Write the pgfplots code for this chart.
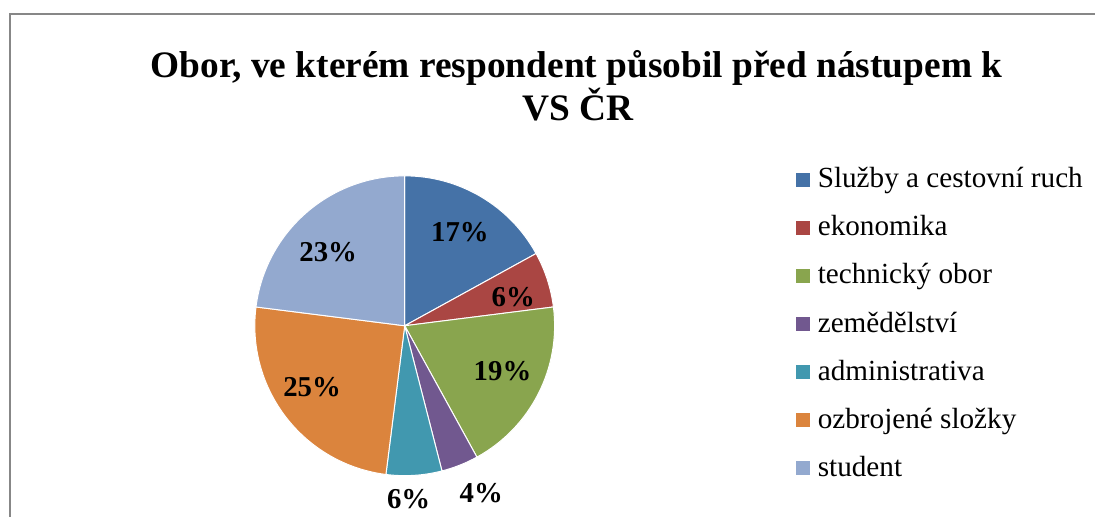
\documentclass[border=0pt]{standalone}
\usepackage{fontspec}
\setmainfont{Liberation Serif}
\usepackage{pgfplots}
\pgfplotsset{compat=1.18}
\definecolor{c1}{HTML}{4572A7}
\definecolor{c2}{HTML}{AA4643}
\definecolor{c3}{HTML}{89A54E}
\definecolor{c4}{HTML}{71588F}
\definecolor{c5}{HTML}{4198AF}
\definecolor{c6}{HTML}{DB843D}
\definecolor{c7}{HTML}{93A9CF}
\tikzset{
  lbl/.style={font=\bfseries\fontsize{14.4bp}{16bp}\selectfont},
  leg/.style={font=\fontsize{14.6bp}{17bp}\selectfont, anchor=base west, inner sep=0pt},
}
\begin{document}
\begin{tikzpicture}
\begin{axis}[hide axis, scale only axis, x=0.5bp, y=0.5bp,
  xmin=0, xmax=1096, ymin=0, ymax=517, clip=false]
\path (axis cs:0,0) rectangle (axis cs:1096,517);
% chart area frame (cropped at right and bottom)
\draw[black!47, line width=0.8bp] (axis cs:10,0) -- (axis cs:10,503) -- (axis cs:1096,503);
% title
\node[font=\bfseries\fontsize{18.7bp}{21.5bp}\selectfont, anchor=base]
  at (axis cs:577,439) {Obor, ve kterém respondent působil před nástupem k};
\node[font=\bfseries\fontsize{18.7bp}{21.5bp}\selectfont, anchor=base]
  at (axis cs:578,396) {VS ČR};
% pie: value / colour / label distance / label angle shift
\xdef\acc{90}
\foreach \v/\col/\d/\da in {17/c1/0.724/0, 6/c2/0.75/-3, 19/c3/0.72/2,
    4/c4/1.227/3, 6/c5/1.16/-2.3, 25/c6/0.74/-4.4, 23/c7/0.71/4.6}{
  \pgfmathsetmacro\ea{\acc-3.6*\v}
  \pgfmathsetmacro\ma{(\acc+\ea)/2+\da}
  \pgfmathsetmacro\lx{405+150*\d*cos(\ma)}
  \pgfmathsetmacro\ly{191+150*\d*sin(\ma)}
  \edef\tmp{\noexpand\fill[\col, draw=white, line width=0.5bp] (axis cs:405,191)
      -- ++(\acc:75bp) arc[start angle=\acc, end angle=\ea, radius=75bp] -- cycle;
    \noexpand\node[lbl] at (axis cs:\lx,\ly) {\v\noexpand\%};}
  \tmp
  \xdef\acc{\ea}
}
% legend
\foreach \i/\col/\t in {0/c1/Služby a cestovní ruch, 1/c2/ekonomika,
    2/c3/technický obor, 3/c4/zemědělství, 4/c5/administrativa,
    5/c6/ozbrojené složky, 6/c7/student}{
  \pgfmathsetmacro\yb{517-(188+48.1*\i)}
  \pgfmathsetmacro\ya{\yb+1}
  \pgfmathsetmacro\yc{\yb+15}
  \edef\tmp{\noexpand\fill[\col] (axis cs:797,\ya) rectangle (axis cs:811,\yc);
    \noexpand\node[leg] at (axis cs:818,\yb) {\t};}
  \tmp
}
\end{axis}
\end{tikzpicture}
\end{document}
